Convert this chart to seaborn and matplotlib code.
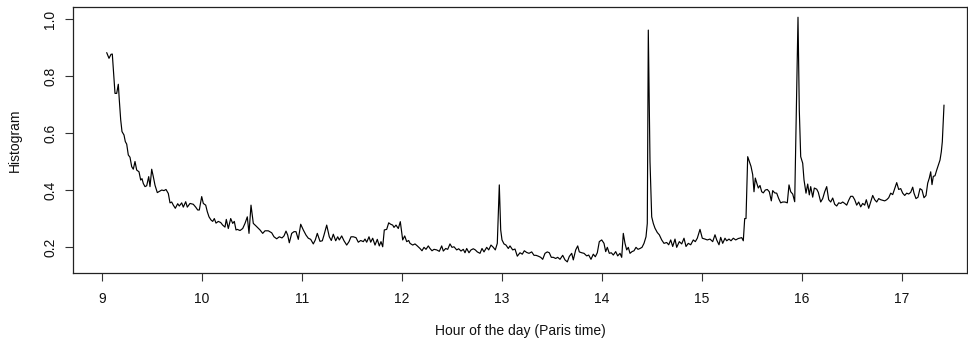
import numpy as np
import pandas as pd
import matplotlib
matplotlib.use("Agg")
import matplotlib.pyplot as plt
import seaborn as sns

# ---- data (hour of day, histogram value) ----
hours_a = [9.05, 9.073, 9.093, 9.106, 9.133, 9.15, 9.166, 9.176, 9.19, 9.203, 9.223, 9.236,
           9.25, 9.266, 9.283, 9.30, 9.316, 9.333, 9.35, 9.373, 9.39, 9.403, 9.416, 9.433,
           9.45, 9.47, 9.483, 9.50, 9.516, 9.533, 9.556, 9.576, 9.60, 9.623, 9.643, 9.666,
           9.683, 9.70, 9.716, 9.736, 9.76, 9.776, 9.80, 9.816, 9.84, 9.856, 9.883, 9.916,
           9.94, 9.96, 9.976, 10.0, 10.016, 10.04, 10.056, 10.073, 10.093, 10.11, 10.126,
           10.143, 10.166, 10.19, 10.21, 10.233, 10.246, 10.266, 10.29, 10.31, 10.326,
           10.343, 10.356, 10.383, 10.41, 10.433, 10.456, 10.473, 10.493, 10.516, 10.543]
hist_a = [0.882, 0.862, 0.876, 0.877, 0.739, 0.739, 0.771, 0.716, 0.646, 0.605, 0.593, 0.570,
          0.561, 0.523, 0.515, 0.482, 0.473, 0.500, 0.470, 0.464, 0.435, 0.440, 0.423, 0.412,
          0.415, 0.447, 0.412, 0.473, 0.447, 0.417, 0.391, 0.395, 0.400, 0.398, 0.402, 0.388,
          0.355, 0.358, 0.347, 0.336, 0.352, 0.344, 0.355, 0.340, 0.359, 0.340, 0.353, 0.350,
          0.340, 0.330, 0.330, 0.377, 0.353, 0.347, 0.324, 0.306, 0.295, 0.290, 0.300,
          0.284, 0.290, 0.286, 0.277, 0.270, 0.297, 0.265, 0.300, 0.283, 0.290,
          0.260, 0.262, 0.258, 0.265, 0.283, 0.306, 0.248, 0.347, 0.283, 0.274]

hours_b = [10.583, 10.61, 10.633, 10.666, 10.70, 10.723, 10.75, 10.776, 10.803, 10.823,
           10.843, 10.86, 10.876, 10.90, 10.923, 10.943, 10.966, 10.99, 11.016, 11.043,
           11.066, 11.09, 11.116, 11.136, 11.156, 11.183, 11.206, 11.223, 11.25, 11.276,
           11.296, 11.316, 11.34, 11.36, 11.376, 11.40, 11.423, 11.45, 11.473, 11.493,
           11.516, 11.543, 11.566, 11.59, 11.616, 11.633, 11.65, 11.673, 11.69, 11.71,
           11.733, 11.756, 11.776, 11.793, 11.81, 11.826, 11.85, 11.87, 11.89, 11.91,
           11.923, 11.943, 11.966, 11.986, 12.01, 12.03, 12.05, 12.07]
hist_b = [0.260, 0.248, 0.257, 0.257, 0.250, 0.236, 0.229, 0.236, 0.232, 0.239,
          0.256, 0.242, 0.215, 0.248, 0.254, 0.254, 0.227, 0.280, 0.260, 0.242,
          0.231, 0.227, 0.211, 0.225, 0.248, 0.220, 0.222, 0.242, 0.277, 0.236,
          0.223, 0.245, 0.222, 0.236, 0.225, 0.239, 0.222, 0.207, 0.219, 0.236,
          0.236, 0.233, 0.217, 0.223, 0.219, 0.228, 0.217, 0.236, 0.217, 0.231,
          0.207, 0.227, 0.204, 0.219, 0.201, 0.260, 0.262, 0.285, 0.280, 0.277,
          0.269, 0.277, 0.265, 0.289, 0.225, 0.239, 0.219, 0.223]

hours_c = [12.083, 12.11, 12.133, 12.156, 12.183, 12.203, 12.223, 12.243, 12.266, 12.283,
           12.303, 12.323, 12.35, 12.376, 12.40, 12.416, 12.44, 12.46, 12.483, 12.503,
           12.523, 12.55, 12.57, 12.593, 12.616, 12.633, 12.65, 12.673, 12.693, 12.716,
           12.736, 12.756, 12.783, 12.803, 12.823, 12.85, 12.87, 12.893, 12.916, 12.936,
           12.956, 12.976, 12.99, 13.003, 13.023, 13.043, 13.066, 13.083, 13.11, 13.133,
           13.156, 13.183, 13.206, 13.226, 13.25, 13.273, 13.30, 13.323, 13.343, 13.366,
           13.39, 13.41, 13.433, 13.456, 13.476, 13.496, 13.516, 13.54, 13.56, 13.583,
           13.61, 13.633, 13.656, 13.676, 13.70, 13.716, 13.74, 13.76, 13.776]
hist_c = [0.213, 0.207, 0.211, 0.204, 0.195, 0.187, 0.199, 0.192, 0.204, 0.195,
          0.187, 0.192, 0.190, 0.185, 0.204, 0.186, 0.195, 0.192, 0.211, 0.199,
          0.201, 0.190, 0.194, 0.186, 0.192, 0.180, 0.195, 0.180, 0.190, 0.194,
          0.190, 0.183, 0.178, 0.195, 0.183, 0.199, 0.190, 0.207, 0.199, 0.190,
          0.213, 0.418, 0.260, 0.225, 0.211, 0.207, 0.195, 0.204, 0.190, 0.193,
          0.168, 0.180, 0.175, 0.187, 0.181, 0.178, 0.183, 0.171, 0.171, 0.168,
          0.164, 0.157, 0.178, 0.183, 0.180, 0.164, 0.164, 0.160, 0.164, 0.157,
          0.171, 0.155, 0.148, 0.167, 0.178, 0.155, 0.190, 0.204, 0.183]

hours_d = [13.80, 13.823, 13.85, 13.87, 13.893, 13.916, 13.936, 13.956, 13.976, 14.0,
           14.023, 14.04, 14.056, 14.076, 14.096, 14.116, 14.14, 14.16, 14.183, 14.2,
           14.216, 14.233, 14.25, 14.266, 14.283, 14.303, 14.323, 14.343, 14.363, 14.383,
           14.403, 14.423, 14.443, 14.456, 14.466, 14.483, 14.5, 14.516, 14.533, 14.556,
           14.576, 14.6, 14.623, 14.65, 14.67, 14.69, 14.71, 14.733, 14.75, 14.776,
           14.80, 14.823, 14.843, 14.866, 14.89, 14.916, 14.936, 14.956, 14.983, 15.006,
           15.033, 15.056, 15.083, 15.11, 15.133, 15.15, 15.173, 15.19, 15.21, 15.233,
           15.25, 15.273, 15.293, 15.316, 15.34, 15.366]
hist_d = [0.180, 0.178, 0.169, 0.172, 0.157, 0.175, 0.166, 0.180, 0.219, 0.225,
          0.213, 0.184, 0.199, 0.178, 0.180, 0.172, 0.184, 0.169, 0.178, 0.164,
          0.248, 0.213, 0.190, 0.199, 0.178, 0.184, 0.187, 0.199, 0.192, 0.195,
          0.199, 0.213, 0.236, 0.283, 0.961, 0.500, 0.306, 0.283, 0.266, 0.251,
          0.243, 0.225, 0.213, 0.216, 0.208, 0.225, 0.202, 0.228, 0.199, 0.219,
          0.211, 0.231, 0.202, 0.213, 0.208, 0.225, 0.219, 0.231, 0.262, 0.231,
          0.228, 0.225, 0.228, 0.219, 0.243, 0.225, 0.208, 0.234, 0.213, 0.231,
          0.222, 0.228, 0.222, 0.231, 0.225, 0.230]

hours_e = [15.40, 15.416, 15.43, 15.443, 15.46, 15.476, 15.493, 15.51, 15.523, 15.536,
           15.55, 15.566, 15.583, 15.60, 15.616, 15.636, 15.656, 15.676, 15.696, 15.71,
           15.73, 15.75, 15.77, 15.79, 15.81, 15.833, 15.856, 15.873, 15.89, 15.91,
           15.93, 15.963, 15.976, 15.99, 16.01, 16.023, 16.043, 16.06, 16.076, 16.09,
           16.11, 16.126, 16.15, 16.166, 16.19, 16.21, 16.23, 16.25, 16.27, 16.29,
           16.31, 16.33, 16.35, 16.37, 16.39, 16.41, 16.43, 16.45, 16.47, 16.49,
           16.51, 16.53, 16.55, 16.57, 16.59, 16.61, 16.63, 16.646, 16.67, 16.69,
           16.71, 16.73, 16.75, 16.77, 16.79, 16.81, 16.83, 16.85, 16.87, 16.89,
           16.91, 16.93, 16.95, 16.97, 16.99, 17.01, 17.03, 17.05, 17.07, 17.09,
           17.11, 17.123, 17.143, 17.163, 17.183, 17.203, 17.223, 17.243, 17.26, 17.276,
           17.29, 17.303, 17.316, 17.333, 17.35, 17.366, 17.383, 17.396, 17.406, 17.423]
hist_e = [0.233, 0.222, 0.300, 0.300, 0.517, 0.500, 0.483, 0.454, 0.394, 0.442,
          0.425, 0.407, 0.416, 0.394, 0.390, 0.400, 0.402, 0.394, 0.362, 0.398,
          0.390, 0.389, 0.370, 0.355, 0.358, 0.358, 0.355, 0.418, 0.394, 0.386,
          0.359, 1.006, 0.680, 0.517, 0.494, 0.436, 0.389, 0.421, 0.383, 0.412,
          0.375, 0.407, 0.403, 0.392, 0.358, 0.370, 0.394, 0.412, 0.366, 0.358,
          0.372, 0.350, 0.344, 0.355, 0.353, 0.358, 0.353, 0.347, 0.364, 0.378,
          0.378, 0.366, 0.347, 0.358, 0.341, 0.353, 0.347, 0.366, 0.336, 0.358,
          0.381, 0.366, 0.358, 0.370, 0.366, 0.364, 0.362, 0.366, 0.373, 0.389,
          0.384, 0.405, 0.426, 0.402, 0.405, 0.389, 0.381, 0.389, 0.386, 0.392,
          0.410, 0.389, 0.370, 0.375, 0.405, 0.400, 0.373, 0.381, 0.424, 0.442,
          0.464, 0.419, 0.448, 0.450, 0.470, 0.487, 0.505, 0.534, 0.569, 0.698]

x_ticks = [9, 10, 11, 12, 13, 14, 15, 16, 17]
y_ticks = [0.2, 0.4, 0.6, 0.8, 1.0]
x_label = "Hour of the day (Paris time)"
y_label = "Histogram"

df = pd.DataFrame({
    "hour": hours_a + hours_b + hours_c + hours_d + hours_e,
    "hist": hist_a + hist_b + hist_c + hist_d + hist_e,
})

sns.set_style("ticks")
plt.rcParams["font.family"] = ["Liberation Sans", "DejaVu Sans"]

fig = plt.figure(figsize=(9.68, 3.43), dpi=100)
ax = fig.add_axes([73 / 968, 1 - 273 / 343, (967 - 73) / 968, (273 - 7) / 343])

sns.lineplot(data=df, x="hour", y="hist", color="black", linewidth=0.85,
             ax=ax, estimator=None, sort=False)

ax.set_xlim(8.713, 17.653)
ax.set_ylim(0.109, 1.042)
ax.set_xticks(x_ticks)
ax.set_xticklabels([str(t) for t in x_ticks])
ax.set_yticks(y_ticks)
ax.set_yticklabels([f"{t:.1f}" for t in y_ticks], rotation=90, va="center")

for s in ax.spines.values():
    s.set_visible(True)
    s.set_color("#222222")
    s.set_linewidth(0.9)

ax.tick_params(axis="both", direction="out", length=5.5, width=0.8,
               color="#333333", labelsize=10, labelcolor="#111111")
ax.tick_params(axis="x", pad=8)
ax.tick_params(axis="y", pad=6)

ax.set_xlabel(x_label, fontsize=10, color="#111111", va="center")
ax.set_ylabel(y_label, fontsize=10, color="#111111", va="center")
ax.xaxis.set_label_coords(0.5, -(331 - 273) / 266, transform=ax.transAxes)
ax.yaxis.set_label_coords(-(73 - 15) / 894, 0.5, transform=ax.transAxes)
ax.grid(False)

fig.savefig("out.png", dpi=100)
